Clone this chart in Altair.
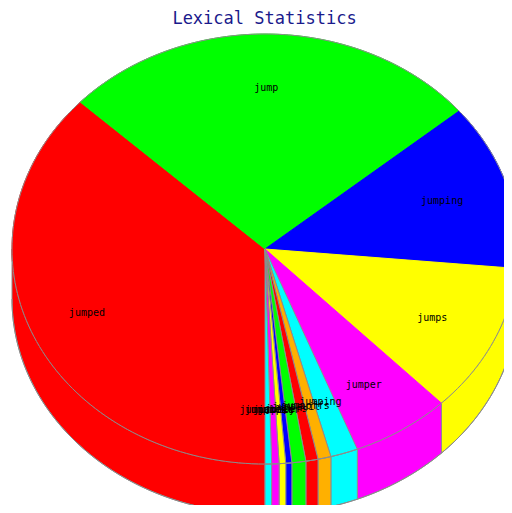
import numpy as np
import pandas as pd
import altair as alt

TITLE = "Lexical Statistics"
words = ["jumped", "jump", "jumping", "jumps", "jumper", "jumping", "jumpoffs",
         "jumpsuit", "jumpers", "jumpier", "jumpily", "jumpiest", "jumpable"]
shares = [133.1, 97.0, 45.1, 40.6, 22.8, 6.3, 3.0, 2.8, 3.2, 1.4, 1.5, 1.7, 1.5]
colors = ["#ff0000", "#00ff00", "#0000ff", "#ffff00", "#ff00ff", "#00ffff", "#ffb000",
          "#ff0000", "#00ff00", "#0000ff", "#ffff00", "#ff00ff", "#00ffff"]
START_ANGLE = 180.0
DEPTH = 0.2326
LABEL_R = 0.75
RIM = "#8c8c8c"
PLOT_W, PLOT_H = 496, 497

# plot-area scale domains, in units of the pie's radii
x_dom = [(8 - 265) / 253, (8 + PLOT_W - 265) / 253]
y_dom = [(249 - 8 - PLOT_H) / 215, (249 - 8) / 215]
x_scale = alt.Scale(domain=x_dom, nice=False, zero=False)
y_scale = alt.Scale(domain=y_dom, nice=False, zero=False)


def px(a):
    return np.sin(np.radians(a))


def py(a):
    return np.cos(np.radians(a))


def arc(a0, a1):
    return np.linspace(a0, a1, max(2, int(abs(a1 - a0) / 1.5) + 2))


tops, walls, labels = [], [], []
a = START_ANGLE
for i, (w, s, c) in enumerate(zip(words, shares, colors)):
    a0, a1 = a, a + s
    a = a1
    big = s > 10
    key = f"{i:02d}"
    stroke = c if big else RIM
    pts = [(0.0, 0.0)] + [(px(t), py(t)) for t in arc(a0, a1)]
    for k, (xv, yv) in enumerate(pts):
        tops.append(dict(key=key, ord=k, x=xv, y=yv, fill=c, line=stroke))
    mid = (a0 + a1) / 2
    labels.append(dict(word=w, x=LABEL_R * px(mid), y=LABEL_R * py(mid)))
    # side wall: only the part facing the viewer (bottom half of the ellipse)
    for lo, hi in [(a0, a1), (a0 - 360, a1 - 360)]:
        lo2, hi2 = max(lo, 90), min(hi, 270)
        if hi2 > lo2:
            ts = arc(lo2, hi2)
            ring = [(px(t), py(t)) for t in ts] + [(px(t), py(t) - DEPTH) for t in ts[::-1]]
            for k, (xv, yv) in enumerate(ring):
                walls.append(dict(key=key, ord=k, x=xv, y=yv, fill=c))

rim = [dict(key="top", ord=k, x=px(t), y=py(t)) for k, t in enumerate(np.arange(0, 361, 1.5))]
rim += [dict(key="bot", ord=k, x=px(t), y=py(t) - DEPTH) for k, t in enumerate(np.arange(90, 270.1, 1.5))]

base_x = alt.X("x:Q", scale=x_scale, axis=None)
base_y = alt.Y("y:Q", scale=y_scale, axis=None)

wall_layer = alt.Chart(pd.DataFrame(walls)).mark_line(
    interpolate="linear-closed", clip=True, strokeWidth=1, stroke=RIM
).encode(x=base_x, y=base_y, order="ord:Q", detail="key:N",
         fill=alt.Fill("fill:N", scale=None))

top_layer = alt.Chart(pd.DataFrame(tops)).mark_line(
    interpolate="linear-closed", clip=True, strokeWidth=1
).encode(x=base_x, y=base_y, order="ord:Q", detail="key:N",
         fill=alt.Fill("fill:N", scale=None),
         stroke=alt.Stroke("line:N", scale=None))

rim_layer = alt.Chart(pd.DataFrame(rim)).mark_line(
    clip=True, strokeWidth=1, color=RIM
).encode(x=base_x, y=base_y, order="ord:Q", detail="key:N")

label_layer = alt.Chart(pd.DataFrame(labels)).mark_text(
    font="DejaVu Sans Mono", fontSize=10, color="black", align="center", baseline="middle", dx=-4
).encode(x=base_x, y=base_y, text="word:N")

title_layer = alt.Chart(pd.DataFrame({"t": [TITLE]})).mark_text(
    font="DejaVu Sans Mono", fontSize=17, color="#1a1a8c", align="center", baseline="middle"
).encode(x=alt.value(256.5), y=alt.value(11), text="t:N")

chart = alt.layer(wall_layer, top_layer, rim_layer, label_layer, title_layer).properties(
    width=PLOT_W,
    height=PLOT_H,
    padding=0,
    autosize=alt.AutoSizeParams(type="none"),
    background="white",
).configure_view(stroke=None)

chart.save("out.html", embed_options={"renderer": "svg", "actions": False})
